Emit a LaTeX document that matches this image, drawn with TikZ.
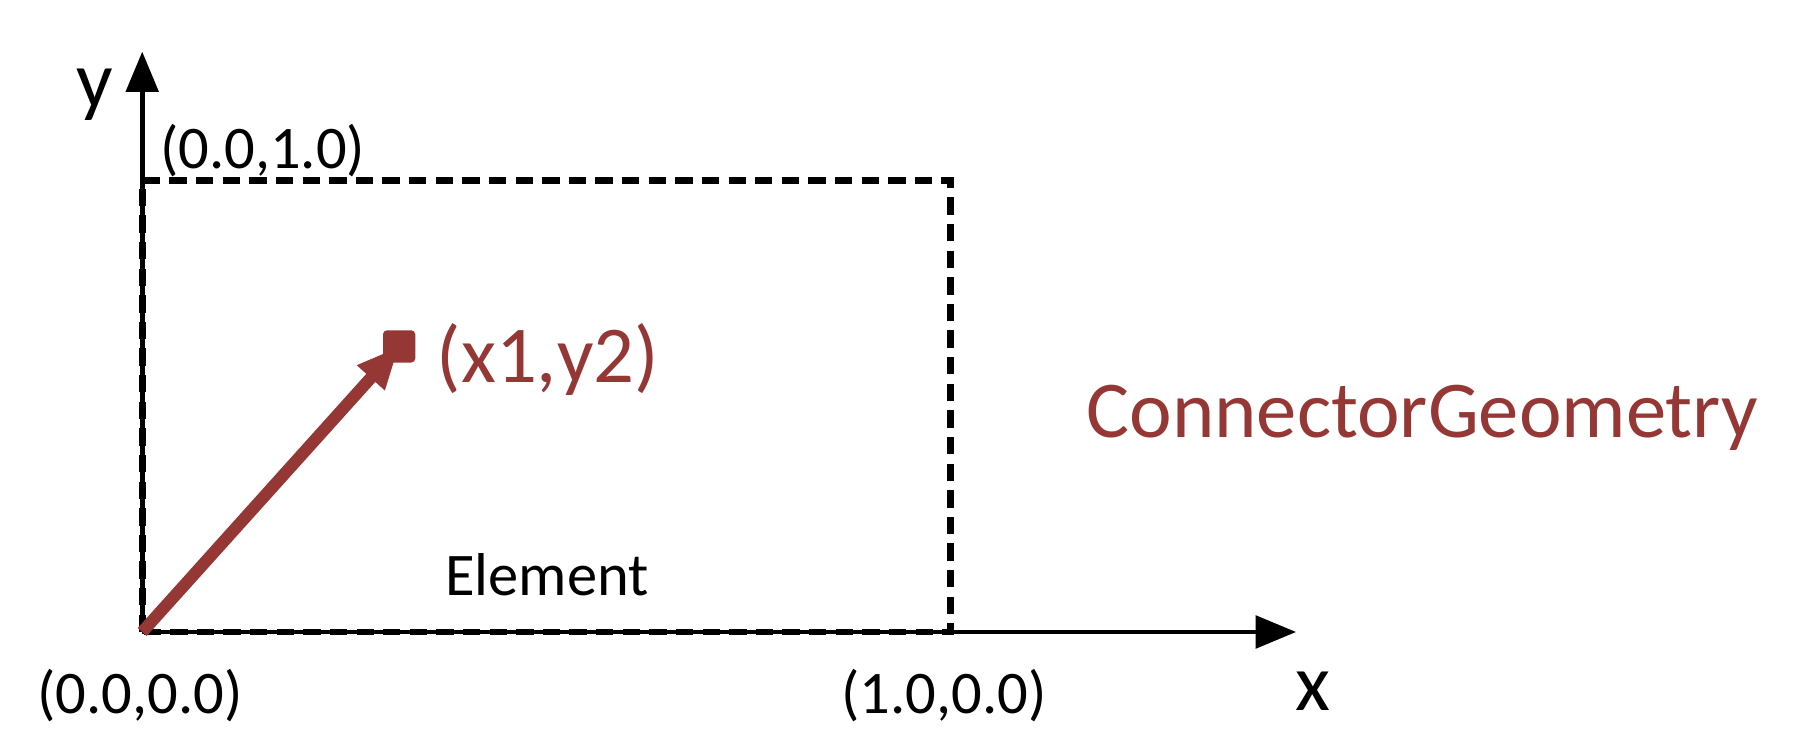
\documentclass[tikz,border=0pt]{standalone}
\usepackage{fontspec}
\setmainfont{Carlito}
\usetikzlibrary{arrows.meta,positioning}
\usepackage{xcolor}
\definecolor{geored}{HTML}{953735}

\begin{document}
\begin{tikzpicture}[x=0.01cm,y=-0.01cm,
		axis/.style={line width=1.15pt,-{Triangle[length=10pt,width=8pt]}},
		elembox/.style={line width=1.7pt,dash pattern=on 4.3pt off 2.3pt},
		vecline/.style={geored,line width=3pt,-{Triangle[length=10.5pt,width=8.5pt]}},
		marker/.style={fill=geored,inner sep=0pt,minimum size=8pt,rounded corners=1pt},
		bigtxt/.style={inner sep=0pt,font=\fontsize{20}{24}\selectfont},
		smalltxt/.style={inner sep=0pt,font=\fontsize{15}{18}\selectfont}]
		
		\useasboundingbox (0,0) rectangle (1565,656);
		
		%origin
		\coordinate (o) at (124,551);
		%axis ends
		\coordinate (ytip) at (124,45);
		\coordinate (xtip) at (1130,551);
		%element corner
		\coordinate (tr) at (829,157);
		%point
		\coordinate (ptc) at (348,302);
		
		% axes
		\draw[axis] (o) -- (ytip);
		\draw[axis] (o) -- (xtip);
		
		% element
		\draw[elembox] (o) rectangle (tr);
		
		% vector
		\draw[vecline] (o) -- (ptc);
		\node[marker] (pt) at (ptc) {};
		
		% labels
		\node[bigtxt] (ylab) at (83,83) {y};
		\node[bigtxt] (xlab) at (1145,603) {x};
		\node[smalltxt] (c01) at (229,131) {(0.0,1.0)};
		\node[smalltxt] (c00) at (122,606) {(0.0,0.0)};
		\node[smalltxt] (c10) at (823,606) {(1.0,0.0)};
		\node[smalltxt] (elem) at (477,501) {Element};
		\node[bigtxt, text=geored, anchor=west] (ptlab) at (380,313) {(x1,y2)};
		\node[bigtxt, text=geored] (geo) at (1240,364) {ConnectorGeometry};
		
\end{tikzpicture}
\end{document}
